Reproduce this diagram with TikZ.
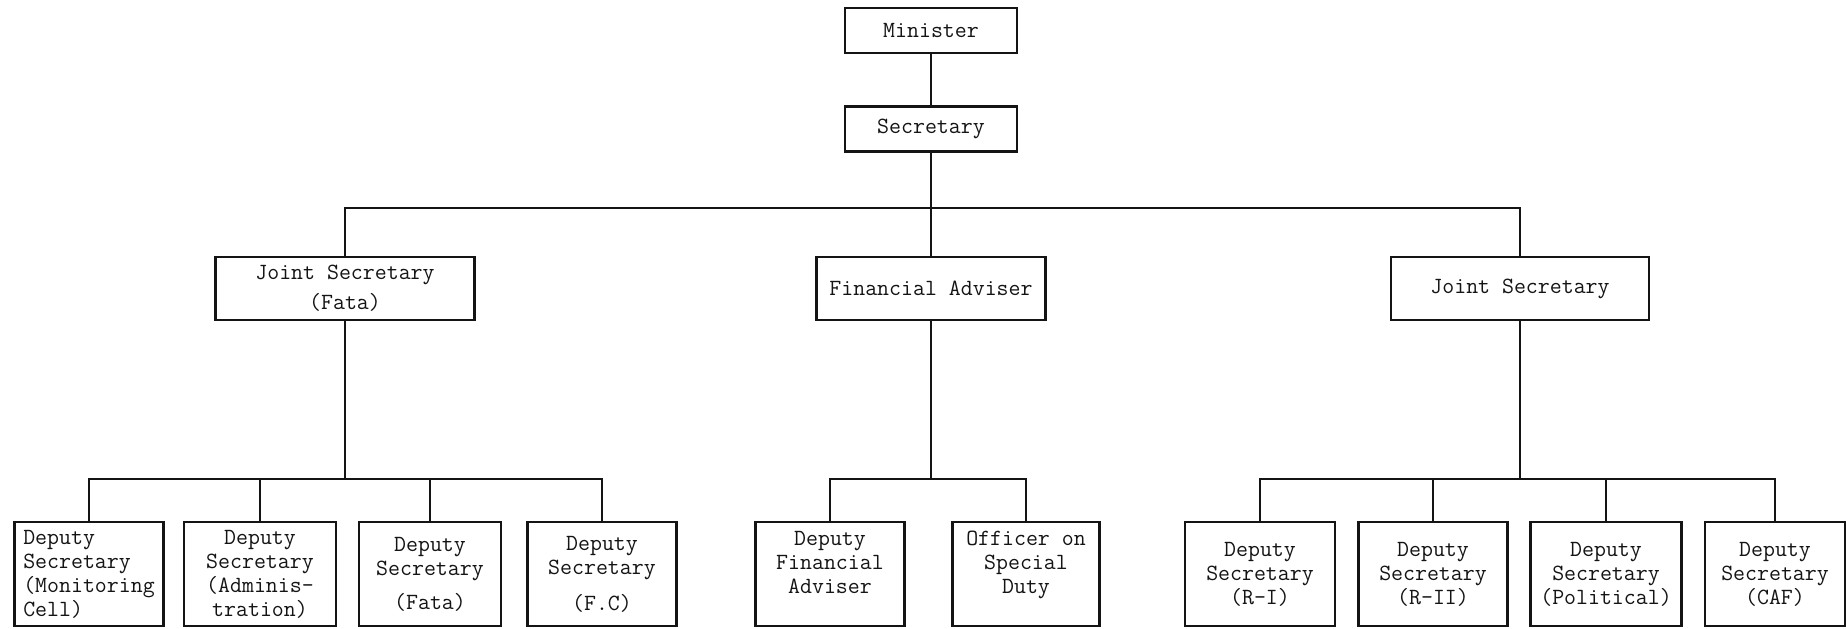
\documentclass[tikz,border=0pt]{standalone}
\usetikzlibrary{positioning}
\definecolor{inkblack}{HTML}{141414}
\newcommand{\charttext}{\ttfamily\fontsize{11.6}{12}\selectfont}
\tikzset{
  link/.style={draw=inkblack,line width=.8pt},
  postbox/.style={draw=inkblack,line width=1.1pt,align=center,text=inkblack,inner sep=2pt,font=\charttext},
  headbox/.style={postbox,minimum width=86pt,minimum height=22.5pt},
  branchbox/.style={postbox,minimum height=31.5pt},
  deputybox/.style={postbox,minimum width=74.5pt,minimum height=52pt}
}

\begin{document}
\begin{tikzpicture}[x=.5pt,y=-.5pt]
  \useasboundingbox (0,0) rectangle (1846,628);

  % Head of the ministry.
  \node[headbox] (minister) at (931,30.5) {Minister};
  \node[headbox] (secretary) at (931,129) {Secretary};

  % Second tier.
  \node[branchbox,minimum width=129.5pt] (jsfata) at (345,288.5) {Joint Secretary\\[3pt](Fata)};
  \node[branchbox,minimum width=114.5pt] (finadviser) at (931,288.5) {Financial Adviser};
  \node[branchbox,minimum width=129pt] (jsright) at (1520,288.5) {Joint Secretary};

  % Deputies under the Joint Secretary (Fata).
  \node[deputybox,align=left] (dsmonitor) at (89,574) {Deputy\\Secretary\\(Monitoring\\Cell)};
  \node[deputybox,minimum width=76pt] (dsadmin) at (260,574) {Deputy\\Secretary\\(Adminis-\\tration)};
  \node[deputybox,minimum width=71pt] (dsfata) at (430,574) {Deputy\\Secretary\\[5pt](Fata)};
  \node[deputybox] (dsfc) at (602,574) {Deputy\\Secretary\\[6pt](F.C)};

  % Staff of the Financial Adviser.
  \node[deputybox] (dfa) at (830,574) {Deputy\\Financial\\Adviser\\\mbox{}};
  \node[deputybox,minimum width=73.5pt] (osd) at (1026,574) {Officer on\\Special\\Duty\\\mbox{}};

  % Deputies under the second Joint Secretary.
  \node[deputybox,minimum width=75pt] (dsri) at (1260,574) {Deputy\\Secretary\\(R-I)};
  \node[deputybox] (dsrii) at (1433,574) {Deputy\\Secretary\\(R-II)};
  \node[deputybox,minimum width=75.5pt] (dspolitical) at (1606,574) {Deputy\\Secretary\\(Political)};
  \node[deputybox,minimum width=70pt] (dscaf) at (1775,574) {Deputy\\Secretary\\(CAF)};

  % Junction points of the connector bars.
  \coordinate (topbar) at (931,208);
  \coordinate (leftbar) at (345,479);
  \coordinate (midbar) at (931,479);
  \coordinate (rightbar) at (1520,479);

  % Upper links.
  \draw[link] (minister.south) -- (secretary.north);
  \draw[link] (secretary.south) -- (topbar);
  \draw[link] (jsfata.north) |- (topbar) -| (jsright.north);
  \draw[link] (finadviser.north) -- (topbar);

  % Lower links.
  \draw[link] (jsfata.south) -- (leftbar);
  \draw[link] (dsmonitor.north) |- (leftbar) -| (dsfc.north);
  \draw[link] (dsadmin.north) -- (dsadmin.north |- leftbar);
  \draw[link] (dsfata.north) -- (dsfata.north |- leftbar);

  \draw[link] (finadviser.south) -- (midbar);
  \draw[link] (dfa.north) |- (midbar) -| (osd.north);

  \draw[link] (jsright.south) -- (rightbar);
  \draw[link] (dsri.north) |- (rightbar) -| (dscaf.north);
  \draw[link] (dsrii.north) -- (dsrii.north |- rightbar);
  \draw[link] (dspolitical.north) -- (dspolitical.north |- rightbar);
\end{tikzpicture}
\end{document}
